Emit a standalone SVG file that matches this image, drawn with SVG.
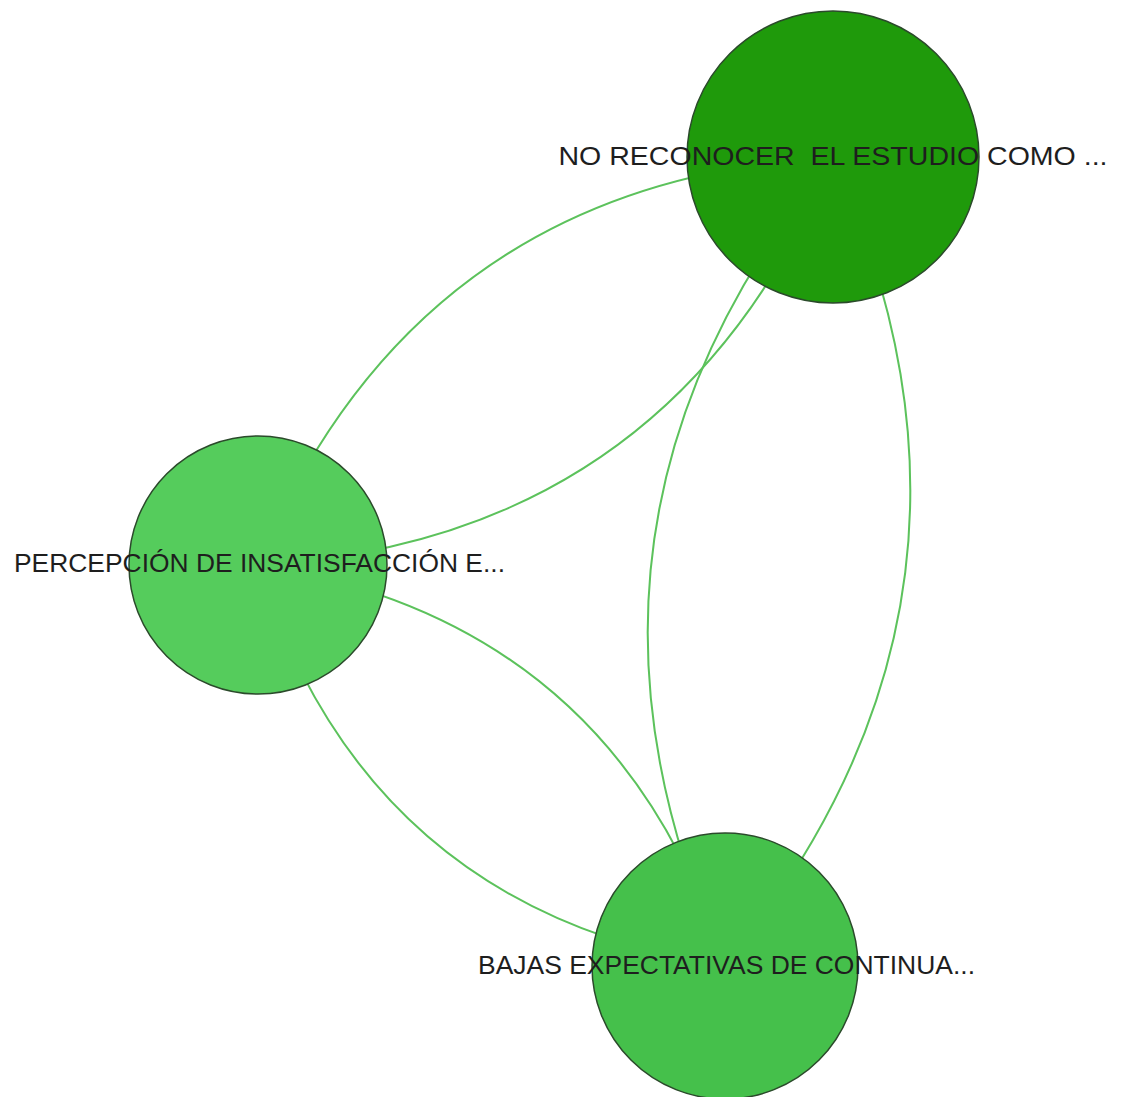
<svg xmlns="http://www.w3.org/2000/svg" width="1121" height="1097" viewBox="0 0 1121 1097">
<style>
.edge{fill:none;stroke:#5cc25c;stroke-width:2}
.node{stroke:#2b4a2b;stroke-width:1.5}
.lbl{font-family:"Liberation Sans",Arial,sans-serif;font-size:25px;fill:#1e1e1e;text-anchor:middle;white-space:pre}
</style>
<rect width="1121" height="1097" fill="#ffffff"/>
<g id="connectors">
<path class="edge" d="M258,565 Q418,181 833,157"/>
<path class="edge" d="M258,565 Q673,541 833,157"/>
<path class="edge" d="M833,157 Q528,528 725,966"/>
<path class="edge" d="M833,157 Q1030,595 725,966"/>
<path class="edge" d="M258,565 Q616,621 725,966"/>
<path class="edge" d="M258,565 Q367,910 725,966"/>
</g>
<g id="node-top">
<circle class="node" cx="833" cy="157" r="146" fill="#1f9a0b"/>
<text class="lbl" x="833" y="165" textLength="549" lengthAdjust="spacingAndGlyphs" xml:space="preserve">NO RECONOCER  EL ESTUDIO COMO ...</text>
</g>
<g id="node-left">
<circle class="node" cx="258" cy="565" r="129" fill="#55cc5c"/>
<text class="lbl" x="259.5" y="572" textLength="491" lengthAdjust="spacingAndGlyphs">PERCEPCIÓN DE INSATISFACCIÓN E...</text>
</g>
<g id="node-bottom">
<circle class="node" cx="725" cy="966" r="133" fill="#45c04b"/>
<text class="lbl" x="726.5" y="974" textLength="497" lengthAdjust="spacingAndGlyphs">BAJAS EXPECTATIVAS DE CONTINUA...</text>
</g>
</svg>
